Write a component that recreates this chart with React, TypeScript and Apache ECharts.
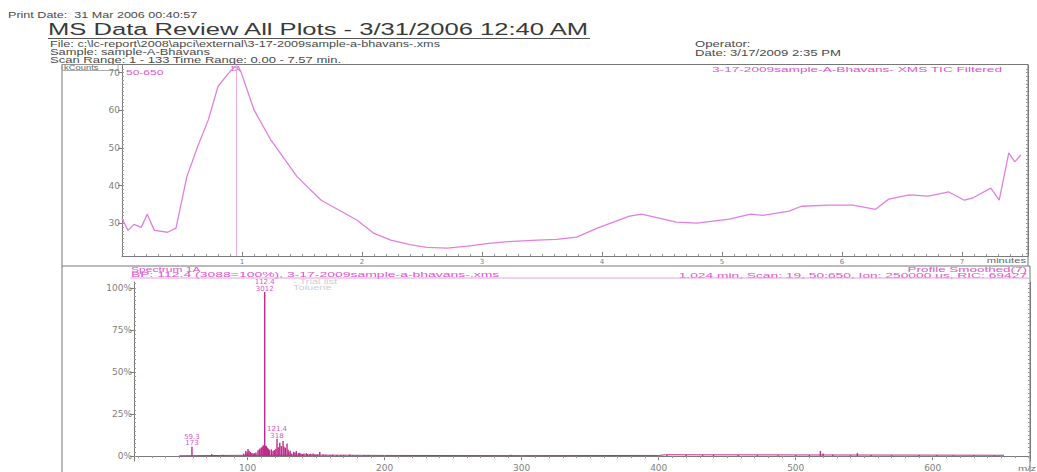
import { useEffect, useRef } from 'react';
import * as echarts from 'echarts';

// TIC chromatogram (minutes, kCounts)
const ticTime = [0, 0.05, 0.1, 0.16, 0.21, 0.27, 0.38, 0.45, 0.54, 0.63, 0.72, 0.8, 0.88, 0.94, 0.99, 1.1, 1.24, 1.46, 1.66, 1.96, 2.1, 2.24, 2.4, 2.54, 2.71, 2.88, 3.04, 3.21, 3.46, 3.62, 3.79, 3.96, 4.23, 4.33, 4.62, 4.79, 5.06, 5.24, 5.34, 5.56, 5.66, 5.89, 6.09, 6.28, 6.39, 6.56, 6.72, 6.89, 7.02, 7.09, 7.24, 7.31, 7.39, 7.44, 7.49];
const ticKCounts = [31.3, 28.1, 29.7, 28.9, 32.4, 28.1, 27.6, 28.7, 42.3, 50.3, 57.5, 66.3, 69.5, 71.6, 70.3, 60.1, 52.1, 42.3, 36.1, 30.8, 27.3, 25.5, 24.3, 23.6, 23.4, 23.9, 24.6, 25.1, 25.5, 25.7, 26.3, 28.7, 31.9, 32.4, 30.3, 30.0, 31.1, 32.4, 32.1, 33.2, 34.5, 34.8, 34.8, 33.7, 36.4, 37.5, 37.2, 38.3, 36.1, 36.7, 39.3, 36.1, 48.7, 46.3, 48.1];
const timeTicks = [1, 2, 3, 4, 5, 6, 7];
const countTicks = [30, 40, 50, 60, 70];
const selectedScanTime = 0.95;

// Spectrum 1A sticks (m/z, % of base peak)
const specMz = [73.7, 81.8, 97, 98.6, 99.5, 100.2, 101, 102, 103, 104, 105, 106, 107.5, 108.5, 109, 110, 110.5, 111.3, 111.8, 113, 113.5, 114, 114.5, 115.3, 116, 117.3, 118.5, 119.5, 120.5, 122.3, 123.4, 124.5, 125.8, 126.5, 127.5, 128.7, 129.5, 130, 131, 132, 133.5, 134.5, 135.5, 137, 138, 139, 140, 141, 142.8, 143.5, 145, 146, 147.7, 149, 150, 151, 152.6, 155, 157, 160, 162, 165, 168, 170, 174.5, 177, 180, 185, 188, 213, 268, 292, 320, 406, 420, 432, 440, 458, 472, 487, 500, 510, 518, 520, 527, 540, 545, 555, 570, 590, 603, 615, 630, 645];
const specPct = [1.2, 0.8, 1.5, 3.0, 2.2, 4.2, 3.2, 2.5, 1.8, 1.5, 1.8, 2.2, 3.5, 4.0, 4.5, 5.0, 5.5, 6.5, 5.8, 6.2, 6.0, 5.2, 4.8, 4.2, 3.5, 4.0, 3.0, 3.6, 4.4, 5.2, 8.0, 6.0, 9.0, 5.5, 5.0, 7.5, 3.8, 2.5, 3.2, 1.5, 2.6, 2.2, 3.0, 1.8, 2.0, 1.4, 1.2, 1.6, 1.8, 1.3, 1.0, 1.4, 1.5, 0.9, 0.8, 1.0, 2.5, 0.9, 0.8, 0.7, 0.9, 0.6, 0.6, 0.7, 1.0, 0.6, 0.5, 0.6, 0.6, 0.5, 0.6, 0.8, 0.4, 0.7, 0.8, 0.6, 0.7, 0.6, 0.6, 0.5, 0.6, 0.7, 3.0, 1.5, 0.8, 0.6, 1.8, 0.6, 0.5, 0.6, 0.7, 0.5, 0.6, 0.5];
// labelled peaks (m/z, counts)
const peakMz = [59.3, 112.4, 121.4];
const peakCounts = [173, 3012, 318];
const basePeakCounts = 3088;
// low baseline trace under the sticks
const baseMz = [50, 100, 150, 200, 300, 400, 405, 500, 600, 652];
const basePct = [0.2, 0.5, 0.6, 0.4, 0.3, 0.4, 0.8, 0.7, 0.6, 0.5];
const mzTicks = [100, 200, 300, 400, 500, 600];
const pctTicks = [0, 25, 50, 75, 100];

const FONT = '"Liberation Sans", Arial, sans-serif';
const AXFONT = '"DejaVu Sans", sans-serif';
const PINK = '#dd55cc';
const TIC = '#e27fe0';
const STICK = '#c02a8c';
const AXIS = '#7a7a7a';
const TEXT = '#4a4a4a';

function steps(from: number, to: number, step: number) {
  const out: number[] = [];
  for (let v = from; v <= to + 1e-9; v += step) out.push(Math.round(v * 1000) / 1000);
  return out;
}

// text drawn slightly wide, as on the printed report
function txt(x: number, y: number, text: string, size: number, fill: string, sx = 1.5, align = 'left') {
  return {
    type: 'text', x, y, scaleX: sx, silent: true,
    style: { text, fill, fontSize: size, fontFamily: FONT, align, verticalAlign: 'middle' },
  };
}
function ln(x1: number, y1: number, x2: number, y2: number, stroke = AXIS, w = 1) {
  return { type: 'line', silent: true, shape: { x1, y1, x2, y2 }, style: { stroke, lineWidth: w } };
}

export default function App() {
  const ref = useRef<HTMLDivElement>(null);
  useEffect(() => {
    if (!ref.current) return;
    const chart = echarts.init(ref.current, undefined, { renderer: 'svg' });

    const tMin = 0, tMax = 7.55, cMin = 21.3, cMax = 72;
    const mMin = 17, mMax = 671, pMin = -2.9, pMax = 103.5;
    const lbl = { fontSize: 9, color: '#808080', fontFamily: AXFONT };

    const majorX = (grid: number, min: number, max: number, ticks: number[], inside: boolean, size: number) => ({
      type: 'value', gridIndex: grid, min, max, position: 'bottom',
      axisLine: { show: true, lineStyle: { color: AXIS, width: 1 } },
      axisTick: { show: true, customValues: ticks, inside, length: 4, lineStyle: { color: AXIS } },
      axisLabel: { show: true, customValues: ticks, margin: 2, ...lbl, fontSize: size },
      splitLine: { show: false },
    });
    const minorAx = (kind: 'x' | 'y', grid: number, min: number, max: number, ticks: number[], inside: boolean, pos: string) => ({
      type: 'value', gridIndex: grid, min, max, position: pos,
      axisLine: { show: kind === 'y' && pos === 'right', lineStyle: { color: AXIS, width: 1 } },
      axisTick: { show: true, customValues: ticks, inside, length: 2, lineStyle: { color: '#999' } },
      axisLabel: { show: false },
      splitLine: { show: false },
    });
    const majorY = (grid: number, min: number, max: number, ticks: number[], fmt: (v: number) => string) => ({
      type: 'value', gridIndex: grid, min, max, position: 'left',
      axisLine: { show: true, lineStyle: { color: AXIS, width: 1 } },
      axisTick: { show: true, customValues: ticks, inside: false, length: 4, lineStyle: { color: AXIS } },
      axisLabel: { show: true, customValues: ticks, margin: 2, formatter: fmt, ...lbl },
      splitLine: { show: false },
    });

    const stickData: any[] = specMz.map((m, i) => [m, specPct[i]]);
    peakMz.forEach((m, i) => {
      stickData.push({
        value: [m, (peakCounts[i] / basePeakCounts) * 100],
        label: {
          show: true, position: 'top', distance: 0,
          formatter: `${m}\n${peakCounts[i]}`,
          fontSize: 7, lineHeight: 6.5, color: PINK, fontFamily: AXFONT,
        },
      });
    });

    chart.setOption({
      animation: false,
      backgroundColor: '#ffffff',
      textStyle: { fontFamily: FONT },
      grid: [
        { left: 122, top: 65, width: 906, height: 191 },
        { left: 134, top: 282, width: 896, height: 181 },
      ],
      xAxis: [
        majorX(0, tMin, tMax, timeTicks, true, 7),
        minorAx('x', 0, tMin, tMax, steps(0.1, 7.5, 0.1), true, 'bottom'),
        majorX(1, mMin, mMax, mzTicks, false, 9),
        minorAx('x', 1, mMin, mMax, steps(20, 670, 10), false, 'bottom'),
      ],
      yAxis: [
        majorY(0, cMin, cMax, countTicks, (v) => `${v}`),
        minorAx('y', 0, cMin, cMax, steps(22, 71, 1), true, 'left'),
        minorAx('y', 0, cMin, cMax, steps(22, 71, 1), true, 'right'),
        majorY(1, pMin, pMax, pctTicks, (v) => `${v}%`),
        minorAx('y', 1, pMin, pMax, steps(0, 102.5, 2.5), true, 'left'),
        minorAx('y', 1, pMin, pMax, steps(0, 102.5, 2.5), true, 'right'),
      ],
      series: [
        {
          type: 'line', xAxisIndex: 0, yAxisIndex: 0,
          data: ticTime.map((t, i) => [t, ticKCounts[i]]),
          showSymbol: false, symbol: 'none',
          lineStyle: { color: TIC, width: 1.3 },
          markLine: {
            silent: true, symbol: 'none', label: { show: false },
            lineStyle: { color: '#eab0ea', width: 1, type: 'solid' },
            data: [{ xAxis: selectedScanTime }],
          },
        },
        {
          type: 'line', xAxisIndex: 2, yAxisIndex: 3,
          data: baseMz.map((m, i) => [m, basePct[i]]),
          showSymbol: false, symbol: 'none',
          lineStyle: { color: STICK, width: 1 },
        },
        {
          type: 'bar', xAxisIndex: 2, yAxisIndex: 3,
          data: stickData, barWidth: 1.4,
          itemStyle: { color: STICK },
        },
      ],
      graphic: [
        txt(8, 15, 'Print Date:  31 Mar 2006 00:40:57', 8.5, TEXT, 1.48),
        txt(48, 30, 'MS Data Review All Plots - 3/31/2006 12:40 AM', 16.5, '#3a3a3a', 1.55),
        ln(48, 38.5, 590, 38.5, '#555', 1),
        txt(50, 44, 'File: c:\\lc-report\\2008\\apci\\external\\3-17-2009sample-a-bhavans-.xms', 8.5, TEXT, 1.49),
        txt(50, 52, 'Sample: sample-A-Bhavans', 8.5, TEXT, 1.52),
        txt(50, 59.5, 'Scan Range: 1 - 133 Time Range: 0.00 - 7.57 min.', 9, TEXT, 1.45),
        txt(695, 44, 'Operator:', 9, TEXT, 1.46),
        txt(695, 53, 'Date: 3/17/2009 2:35 PM', 9, TEXT, 1.46),
        // outer frame and plot separator
        ln(62, 64.5, 1028, 64.5, '#777', 1),
        ln(62, 64.5, 62, 472, '#777', 1),
        ln(1028, 64.5, 1028, 266, '#777', 1),
        ln(1030, 266, 1030, 472, '#777', 1),
        ln(62, 266, 1030, 266, '#777', 1),
        { type: 'rect', silent: true, shape: { x: 62, y: 64.5, width: 56, height: 6 }, style: { fill: 'none', stroke: '#999', lineWidth: 0.8 } },
        txt(64, 67.6, 'kCounts', 6.5, '#666', 1.45),
        txt(1002, 69, '3-17-2009sample-A-Bhavans- XMS TIC Filtered', 7.5, PINK, 1.82, 'right'),
        txt(126, 72, '50-650', 7.5, PINK, 1.6),
        txt(230, 68.5, '1A', 6.5, PINK, 1.4),
        txt(1026, 260.5, 'minutes', 7, '#666', 1.6, 'right'),
        // spectrum header
        txt(131, 270, 'Spectrum 1A', 6.5, PINK, 1.85),
        txt(131, 275, 'BP: 112.4 (3088=100%), 3-17-2009sample-a-bhavans-.xms', 6.5, PINK, 2.15),
        txt(1027, 269.5, 'Profile Smoothed(7)', 6.5, PINK, 2.07, 'right'),
        txt(1027, 275.5, '1.024 min, Scan: 19, 50:650, Ion: 250000 us, RIC: 69427', 6.5, PINK, 2.12, 'right'),
        ln(130, 278, 1030, 278, '#e9a0de', 1),
        txt(293, 281.5, '- Trial list', 6.5, '#cfcfcf', 1.7),
        txt(293, 287.5, 'Toluene', 6.5, '#cfcfcf', 1.7),
        txt(1018, 468, 'm/z', 8, '#777', 1.4),
      ],
    });
    return () => chart.dispose();
  }, []);
  return <div ref={ref} style={{ position: 'absolute', left: 0, top: 0, width: 1037, height: 472, background: '#fff' }} />;
}
